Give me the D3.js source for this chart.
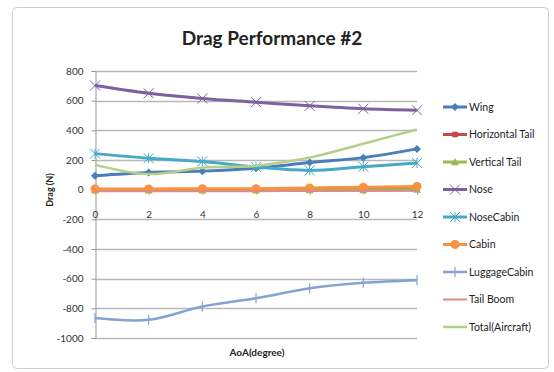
<!DOCTYPE html>
<html><head><meta charset="utf-8">
<script src="https://cdn.jsdelivr.net/npm/d3@7"></script>
<style>body{margin:0;background:#fff;} svg{display:block;font-family:Lato,"Open Sans",sans-serif;}</style>
</head><body><svg id="c" width="554" height="372"></svg>
<script>
const aoa = [0, 2, 4, 6, 8, 10, 12];
const yTicks = [800, 600, 400, 200, 0, -200, -400, -600, -800, -1000];
const seriesNames = ["Wing","Horizontal Tail","Vertical Tail","Nose","NoseCabin","Cabin","LuggageCabin","Tail Boom","Total(Aircraft)"];
const wing = [94, 116, 125, 145, 183, 216, 275];
const horizontalTail = [0, 0, 0, 0, 2, 3, 5];
const verticalTail = [-5, -5, -5, -4, -3, -2, 0];
const nose = [702, 650, 615, 590, 565, 545, 535];
const noseCabin = [243, 212, 190, 152, 130, 155, 180];
const cabin = [5, 5, 6, 7, 12, 16, 22];
const luggageCabin = [-865, -877, -788, -732, -665, -628, -610];
const tailBoom = [-10, -10, -10, -10, -9, -8, -6];
const total = [167, 105, 148, 162, 216, 310, 406];
const values = [wing, horizontalTail, verticalTail, nose, noseCabin, cabin, luggageCabin, tailBoom, total];
const colors = ["#4a7ebb","#be4b48","#98b954","#7d60a0","#46aac5","#f69240","#84a2d2","#e08a88","#b5cf86"];
const markers = ["diamond","square","triangle","x","star","circle","plus","none","none"];

const svg = d3.select("#c");
svg.append("rect").attr("x",12.5).attr("y",7.5).attr("width",536).attr("height",361).attr("rx",4)
  .attr("fill","#fff").attr("stroke","#d0d0d0");
svg.append("text").attr("x",272).attr("y",45).attr("text-anchor","middle")
  .attr("font-size",19).attr("font-weight","bold").attr("fill","#222").text("Drag Performance #2");

const x = d3.scaleLinear().domain([0,12]).range([95,417]);
const y = d3.scaleLinear().domain([-1000,800]).range([338,71]);

// gridlines
svg.append("g").selectAll("line").data(yTicks).join("line")
  .attr("x1",95).attr("x2",417).attr("y1",d=>Math.round(y(d))+0.5).attr("y2",d=>Math.round(y(d))+0.5)
  .attr("stroke","#b8b8b8").attr("stroke-width",1.3);
// y axis
const ya = svg.append("g").attr("transform","translate(95.5,0)")
  .call(d3.axisLeft(y).tickValues(yTicks).tickFormat(d=>String(d)).tickSize(4).tickPadding(8));
ya.select(".domain").attr("stroke","#999");
ya.selectAll(".tick line").attr("stroke","#999");
ya.selectAll("text").attr("font-size",10).attr("fill","#333").attr("font-family","Lato,sans-serif");
// x axis at zero
const xa = svg.append("g").attr("transform",`translate(0,${Math.round(y(0))+0.5})`)
  .call(d3.axisBottom(x).tickValues(aoa).tickFormat(d=>String(d)).tickSize(4).tickPadding(16));
xa.select(".domain").attr("stroke","#999");
xa.selectAll(".tick line").attr("stroke","#999");
xa.selectAll("text").attr("font-size",10).attr("fill","#333").attr("font-family","Lato,sans-serif");

svg.append("text").attr("transform","translate(53,190) rotate(-90)").attr("text-anchor","middle")
  .attr("font-size",9).attr("font-weight","bold").attr("fill","#222").text("Drag (N)");
svg.append("text").attr("x",257).attr("y",356).attr("text-anchor","middle")
  .attr("font-size",10).attr("font-weight","bold").attr("fill","#222").text("AoA(degree)");

const line = d3.line().x((d,i)=>x(aoa[i])).y(d=>y(d)).curve(d3.curveCatmullRom.alpha(0));

function marker(g, type, cx, cy, col, s){
  if(type==="diamond") g.append("path").attr("d",`M${cx},${cy-s}L${cx+s},${cy}L${cx},${cy+s}L${cx-s},${cy}Z`).attr("fill",col);
  else if(type==="square") g.append("rect").attr("x",cx-s*0.8).attr("y",cy-s*0.8).attr("width",s*1.6).attr("height",s*1.6).attr("fill",col);
  else if(type==="triangle") g.append("path").attr("d",`M${cx},${cy-s}L${cx+s},${cy+s*0.8}L${cx-s},${cy+s*0.8}Z`).attr("fill",col);
  else if(type==="circle") g.append("circle").attr("cx",cx).attr("cy",cy).attr("r",s).attr("fill",col);
  else if(type==="x") g.append("path").attr("d",`M${cx-s},${cy-s}L${cx+s},${cy+s}M${cx-s},${cy+s}L${cx+s},${cy-s}`).attr("stroke",col).attr("stroke-width",1);
  else if(type==="star") g.append("path").attr("d",`M${cx-s},${cy-s}L${cx+s},${cy+s}M${cx-s},${cy+s}L${cx+s},${cy-s}M${cx},${cy-s}L${cx},${cy+s}`).attr("stroke",col).attr("stroke-width",1);
  else if(type==="plus") g.append("path").attr("d",`M${cx},${cy-s}L${cx},${cy+s}`).attr("stroke",col).attr("stroke-width",1.2);
}
const sizes = [4,3.5,4,5,5,4.5,5,0,0];
const widths = [3,3,3,3,3,3,2.5,2,2.5];
values.forEach((vals,k)=>{
  const g = svg.append("g");
  g.append("path").datum(vals).attr("d",line).attr("fill","none").attr("stroke",colors[k]).attr("stroke-width",widths[k]);
  vals.forEach((v,i)=>marker(g,markers[k],x(aoa[i]),y(v),colors[k],sizes[k]));
});

// legend
const leg = svg.append("g");
seriesNames.forEach((n,k)=>{
  const ly = 107 + k*27.5;
  leg.append("line").attr("x1",443).attr("x2",467).attr("y1",ly).attr("y2",ly).attr("stroke",colors[k]).attr("stroke-width",widths[k]);
  marker(leg,markers[k],455,ly,colors[k],sizes[k]);
  leg.append("text").attr("x",469).attr("y",ly+3.5).attr("font-size",10.5).attr("fill","#222").text(n);
});
</script></body></html>
